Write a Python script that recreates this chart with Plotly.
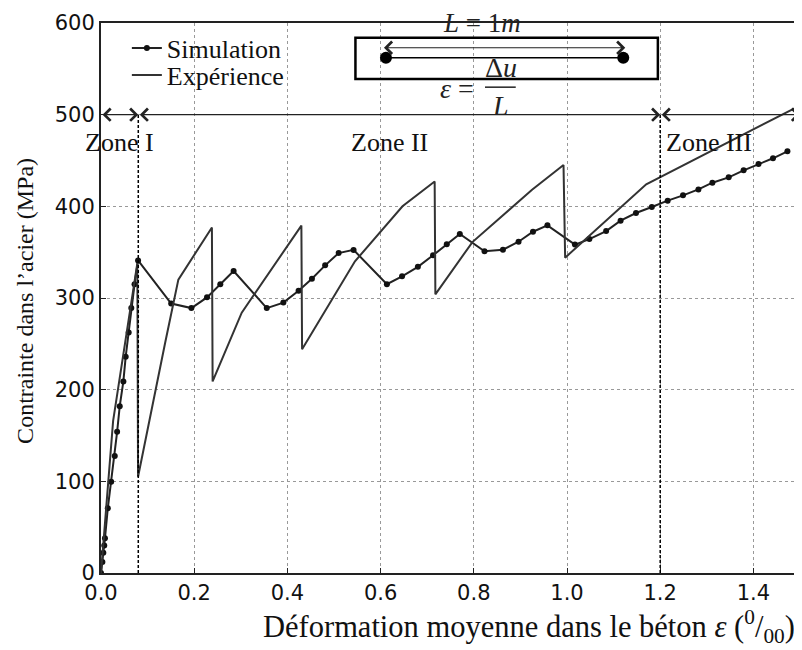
import plotly.graph_objects as go

# Simulation (deformation in per mille, stress in MPa)
sim_eps = [0, 0.003, 0.005, 0.007, 0.0085, 0.0146, 0.0218, 0.0295, 0.0346, 0.0402,
           0.048, 0.053, 0.0594, 0.065, 0.072, 0.0795, 0.1506, 0.194, 0.2275, 0.256,
           0.2846, 0.3557, 0.3914, 0.424, 0.4526, 0.481, 0.510, 0.542, 0.6135, 0.646,
           0.680, 0.7126, 0.742, 0.770, 0.823, 0.8625, 0.896, 0.927, 0.958, 1.017,
           1.048, 1.084, 1.115, 1.148, 1.182, 1.216, 1.249, 1.282, 1.312, 1.347,
           1.379, 1.411, 1.442, 1.473]
sim_sig = [0, 12, 22, 30, 37.8, 70.6, 99.6, 127.6, 154, 182,
           209, 236, 262.5, 289, 315, 341, 294, 289, 300.7, 315,
           329.5, 289, 295, 308, 321, 335.6, 349, 352.5, 315, 323.6,
           334, 346.6, 358.6, 369.8, 351, 352.7, 361.4, 372.3, 379.3, 358.3,
           364.3, 373, 384.3, 392.7, 399.3, 406.2, 412, 418.5, 425.8, 431.6,
           439.3, 446.2, 452.4, 460]

# Experience
exp_eps = [0, 0.0096, 0.026, 0.078, 0.0795, 0.138, 0.166, 0.238, 0.2395, 0.302,
           0.430, 0.4315, 0.545, 0.647, 0.716, 0.7175, 0.797, 0.925, 0.9925, 0.996,
           1.17, 1.5]
exp_sig = [0, 65, 166, 338, 105, 252, 320, 377, 209, 284,
           379, 244, 340, 400, 427, 304, 361, 418, 445, 344,
           424, 510]

# zones
zone_bounds = [0, 0.08, 1.2, 1.5]
zone_names = ["Zone I", "Zone II", "Zone III"]
zone_label_x = [0.04, 0.62, 1.305]
zone_arrow_y = 500
zone_label_y = 470

serif = "Liberation Serif"
ink = "#111111"

fig = go.Figure()
fig.add_trace(go.Scatter(x=sim_eps, y=sim_sig, mode="lines+markers", name="Simulation",
                         legend="legend",
                         line=dict(color="#222222", width=2),
                         marker=dict(color="#111111", size=6)))
fig.add_trace(go.Scatter(x=exp_eps, y=exp_sig, mode="lines", name="Expérience",
                         legend="legend2",
                         line=dict(color="#333333", width=2)))

# vertical zone limits
for xb in zone_bounds[1:3]:
    fig.add_shape(type="line", x0=xb, x1=xb, y0=0, y1=zone_arrow_y, xref="x", yref="y",
                  line=dict(color="black", width=1.5, dash="3px,2px"))

# double arrows for the zones
for i in range(3):
    fig.add_annotation(x=zone_bounds[i + 1], y=zone_arrow_y, ax=zone_bounds[i], ay=zone_arrow_y,
                       xref="x", yref="y", axref="x", ayref="y", text="",
                       showarrow=True, arrowside="end+start", arrowhead=4, startarrowhead=4,
                       arrowsize=2, startarrowsize=2, arrowwidth=1.2, arrowcolor="#222")
    fig.add_annotation(x=zone_label_x[i], y=zone_label_y, text=zone_names[i], showarrow=False,
                       font=dict(family=serif, size=26, color=ink))

# inset: bar with two gauge points
bar = dict(x0=0.546, x1=1.195, y0=539, y1=584)
pts_x = [0.6115, 1.1207]
pts_y = [562, 562]
fig.add_shape(type="rect", xref="x", yref="y", **bar, line=dict(color="black", width=2.5),
              fillcolor="rgba(0,0,0,0)", layer="above")
fig.add_shape(type="line", xref="x", yref="y", x0=pts_x[0], x1=pts_x[1], y0=pts_y[0], y1=pts_y[1],
              line=dict(color="black", width=1.5), layer="above")
fig.add_trace(go.Scatter(x=pts_x, y=pts_y, mode="markers", showlegend=False,
                         marker=dict(color="black", size=12)))
fig.add_annotation(x=1.125, y=573, ax=0.604, ay=573, xref="x", yref="y", axref="x", ayref="y",
                   text="", showarrow=True, arrowside="end+start", arrowhead=4, startarrowhead=4,
                   arrowsize=2, startarrowsize=2, arrowwidth=1.2, arrowcolor="#222")
fig.add_annotation(x=0.817, y=1.0, xref="x", yref="paper", yanchor="middle",
                   text="<i>L</i> = 1<i>m</i>",
                   showarrow=False, font=dict(family=serif, size=27, color="#222"))
fig.add_annotation(x=0.764, y=529, text="<i>ε</i> =", showarrow=False,
                   font=dict(family=serif, size=28, color="#222"))
fig.add_annotation(x=0.858, y=551, text="Δ<i>u</i>", showarrow=False,
                   font=dict(family=serif, size=28, color="#222"))
fig.add_annotation(x=0.858, y=510, text="<i>L</i>", showarrow=False,
                   font=dict(family=serif, size=28, color="#222"))
fig.add_shape(type="line", xref="x", yref="y", x0=0.824, x1=0.89, y0=530, y1=530,
              line=dict(color="#222", width=1.5))

# axis titles
fig.add_annotation(xref="paper", yref="paper", x=0.613, y=-0.14,
                   text="Déformation moyenne dans le béton <i>ε</i> (<sup>0</sup>/<sub>00</sub>)",
                   showarrow=False, font=dict(family=serif, size=30.5, color=ink))
fig.add_annotation(xref="paper", yref="paper", x=-0.13, y=0.495, textangle=-90,
                   text="Contrainte dans l’acier (MPa)",
                   showarrow=False, font=dict(family=serif, size=24, color=ink))

axis_style = dict(showgrid=True, gridcolor="#999", griddash="dot", gridwidth=1, zeroline=False,
                  showline=True, linecolor="#222", linewidth=2, mirror=True,
                  ticks="inside", ticklen=5, tickcolor="#222",
                  tickfont=dict(family="DejaVu Sans", size=21, color=ink))
fig.update_xaxes(range=[0, 1.5], dtick=0.2, tickformat=".1f", **axis_style)
fig.update_yaxes(range=[0, 600], dtick=100, **axis_style)

legend_style = dict(x=0.037, xanchor="left", yanchor="middle", bgcolor="rgba(0,0,0,0)",
                    font=dict(family=serif, size=26, color=ink), itemwidth=30)
fig.update_layout(
    width=794, height=642,
    margin=dict(l=92.5, r=0, t=15, b=77),
    plot_bgcolor="white", paper_bgcolor="white",
    legend=dict(y=0.9545, **legend_style),
    legend2=dict(y=0.9055, **legend_style),
)

fig.write_html("out.html")
